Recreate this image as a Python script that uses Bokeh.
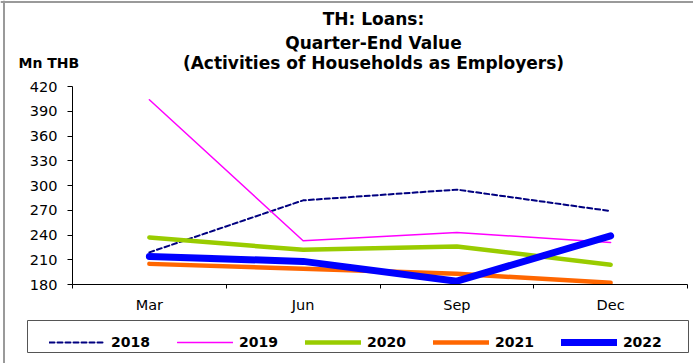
from bokeh.plotting import figure
from bokeh.models import (Range1d, FixedTicker, Legend, LegendItem, Label, LinearAxis,
                          BoxAnnotation, Span)
from bokeh.embed import file_html
from bokeh.resources import INLINE

quarters = ["Mar", "Jun", "Sep", "Dec"]
y2018 = [219, 282, 295, 269]
y2019 = [404, 233, 243, 231]
y2020 = [237, 222, 226, 204]
y2021 = [205, 199, 193, 182]
y2022 = [214, 208, 184, 239]
y_ticks = [180, 210, 240, 270, 300, 330, 360, 390, 420]
y_min, y_max = 180, 420

FONT = "DejaVu Sans"

# page layout (pixels): the frame fills the whole canvas, the plot area sits inside it
W, H = 693, 363
PL, PR, PT, PB = 72, 687, 86, 284          # plot-area edges in canvas pixels
nq = len(quarters)
xpp = nq / (PR - PL)
ypp = (y_max - y_min) / (PB - PT)
x0 = -PL * xpp
y1 = y_max + PT * ypp
x_range = Range1d(x0, nq + (W - PR) * xpp)
y_range = Range1d(y_min - (H - PB) * ypp, y1)


def px_x(px):
    return x0 + px * xpp


def px_y(py):
    return y1 - py * ypp


p = figure(width=W, height=H, output_backend="svg", toolbar_location=None,
           x_range=x_range, y_range=y_range, x_axis_type=None, y_axis_type=None,
           min_border=0, min_border_left=0, min_border_right=0,
           min_border_top=0, min_border_bottom=0)
p.outline_line_color = None
p.background_fill_color = "white"
p.border_fill_color = "white"

# outer chart border: left and top edges
p.add_layout(Span(location=3.5, location_units="screen", dimension="height",
                  line_color="#9a9a9a", line_width=2))
p.add_layout(Span(location=H - 1.5, location_units="screen", dimension="width",
                  line_color="#9a9a9a", line_width=2))

xs = [i + 0.5 for i in range(nq)]

series = [
    ("2018", y2018, dict(line_color="#000080", line_width=2, line_dash="5 3")),
    ("2019", y2019, dict(line_color="#FF00FF", line_width=1.5)),
    ("2020", y2020, dict(line_color="#99CC00", line_width=4.5)),
    ("2021", y2021, dict(line_color="#FF6600", line_width=4.5)),
    ("2022", y2022, dict(line_color="#0000FF", line_width=7)),
]
items = []
for name, ys, style in series:
    r = p.line(xs, ys, line_cap="round", line_join="round", **style)
    items.append(LegendItem(label=name, renderers=[r]))

xa = LinearAxis(fixed_location=y_min, bounds=(0, nq))
xa.ticker = FixedTicker(ticks=xs, minor_ticks=list(range(nq + 1)))
xa.major_label_overrides = {x: q for x, q in zip(xs, quarters)}
xa.major_tick_out = 0
xa.major_tick_in = 0
xa.minor_tick_out = 4
xa.minor_tick_in = 0
xa.minor_tick_line_color = "black"
xa.axis_line_color = "black"
xa.major_label_text_font = FONT
xa.major_label_text_font_size = "14.5px"
xa.major_label_text_color = "black"
xa.major_label_standoff = 8
p.add_layout(xa, "below")

ya = LinearAxis(fixed_location=0, bounds=(y_min, y_max))
ya.ticker = FixedTicker(ticks=y_ticks)
ya.minor_tick_line_color = None
ya.major_tick_out = 5
ya.major_tick_in = 0
ya.major_tick_line_color = "black"
ya.axis_line_color = "black"
ya.major_label_text_font = FONT
ya.major_label_text_font_size = "14.5px"
ya.major_label_text_color = "black"
ya.major_label_standoff = 10
p.add_layout(ya, "left")

title_lines = ["TH: Loans:", "Quarter-End Value", "(Activities of Households as Employers)"]
title_y = [18, 42, 62]
for t, ty in zip(title_lines, title_y):
    p.add_layout(Label(x=373, y=H - ty, x_units="screen", y_units="screen", text=t,
                       text_align="center", text_baseline="middle", text_font=FONT,
                       text_font_style="bold", text_font_size="17px", text_color="black"))
p.add_layout(Label(x=18, y=H - 62, x_units="screen", y_units="screen", text="Mn THB",
                   text_align="left", text_baseline="middle", text_font=FONT,
                   text_font_style="bold", text_font_size="14px", text_color="black"))

# legend frame (data units mapped from the pixel layout)
p.add_layout(BoxAnnotation(left=px_x(27), right=px_x(688), top=px_y(320), bottom=px_y(352),
                           fill_color="white", fill_alpha=1,
                           line_color="#555555", line_alpha=1, line_width=1))

legend = Legend(items=items, orientation="horizontal", location=(49, H - 352),
                label_text_font=FONT, label_text_font_style="bold", label_text_font_size="14px",
                label_text_color="black", glyph_width=56, glyph_height=20, label_standoff=6,
                spacing=27, padding=6, margin=0, border_line_color=None,
                background_fill_alpha=0)
p.add_layout(legend, "center")

open("out.html", "w").write(file_html(p, INLINE))
